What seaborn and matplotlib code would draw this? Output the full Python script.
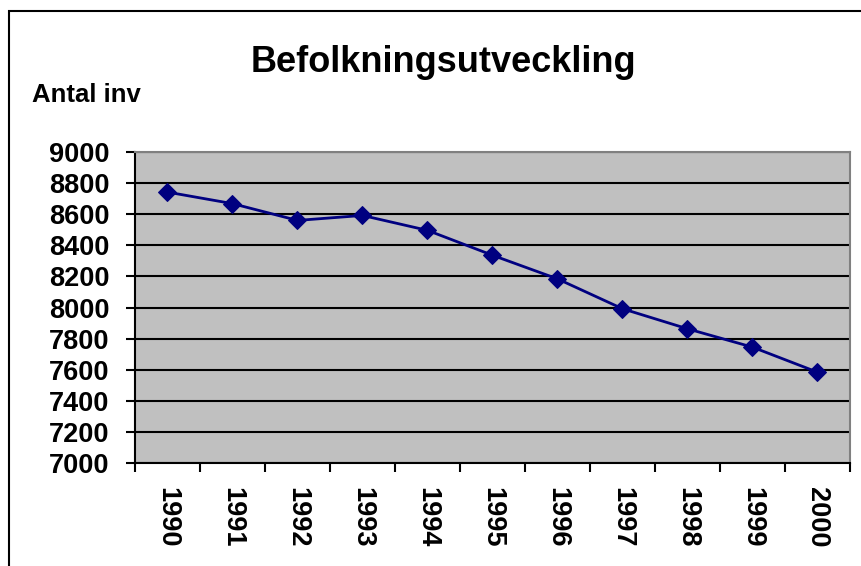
import numpy as np
import pandas as pd
import matplotlib
matplotlib.use("Agg")
import matplotlib.pyplot as plt
import seaborn as sns
from matplotlib.patches import Rectangle
from matplotlib.ticker import FixedLocator

# Data
years = [1990, 1991, 1992, 1993, 1994, 1995, 1996, 1997, 1998, 1999, 2000]
population = [8742, 8668, 8560, 8592, 8496, 8336, 8184, 7992, 7863, 7745, 7584]
y_ticks = list(range(7000, 9001, 200))

df = pd.DataFrame({"year": years, "antal": population})

sns.set_style("white")
plt.rcParams['font.family'] = ['Liberation Sans', 'DejaVu Sans']
plt.rcParams['font.weight'] = 'bold'
plt.rcParams['text.color'] = 'black'
plt.rcParams['xtick.color'] = 'black'
plt.rcParams['ytick.color'] = 'black'

fig = plt.figure(figsize=(8.61, 5.66), dpi=100)
ax = fig.add_axes([135 / 861, 1 - 463 / 566, (850 - 135) / 861, (463 - 152) / 566])
ax.set_facecolor('#C0C0C0')

sns.lineplot(data=df, x='year', y='antal', ax=ax, color='#000080', linewidth=2,
             marker='D', markersize=9.5, markeredgecolor='#000080', zorder=3)

ax.set_xlim(years[0] - 0.5, years[-1] + 0.5)
ax.set_ylim(y_ticks[0], y_ticks[-1])
ax.set_yticks(y_ticks)
ax.set_yticklabels([str(v) for v in y_ticks], fontsize=19.5, fontweight='bold', color='black')
ax.set_xticks(years)
ax.set_xticklabels([str(y) for y in years], rotation=270, fontsize=19.5, fontweight='bold', color='black')
ax.xaxis.set_minor_locator(FixedLocator([y - 0.5 for y in years] + [years[-1] + 0.5]))

ax.tick_params(axis='x', which='major', length=0, pad=17)
ax.tick_params(axis='x', which='minor', length=6.5, width=1.5, color='black', direction='out', bottom=True)
ax.tick_params(axis='y', which='major', length=6.5, width=1.5, color='black', direction='out', left=True, pad=12)

ax.yaxis.grid(True, color='black', linewidth=1.5)
ax.xaxis.grid(False)
ax.set_axisbelow(True)

ax.set_xlabel('')
ax.set_ylabel('')

for side in ['left', 'bottom']:
    ax.spines[side].set_color('black')
    ax.spines[side].set_linewidth(1.5)
for side in ['top', 'right']:
    ax.spines[side].set_color('#808080')
    ax.spines[side].set_linewidth(1.5)

fig.text(443 / 861, 1 - 71.7 / 566, 'Befolkningsutveckling', ha='center', va='baseline',
         fontsize=26, fontweight='bold', color='black')
fig.text(32 / 861, 1 - 101.7 / 566, 'Antal inv', ha='left', va='baseline',
         fontsize=18.5, fontweight='bold', color='black')

# outer chart border (right and bottom edges run off the picture)
fig.patches.append(Rectangle((9 / 861, -0.02), 1.05, 0.02 + 1 - 11 / 566,
                             transform=fig.transFigure, fill=False,
                             edgecolor='black', linewidth=1.5))

fig.savefig('out.png', dpi=100)
